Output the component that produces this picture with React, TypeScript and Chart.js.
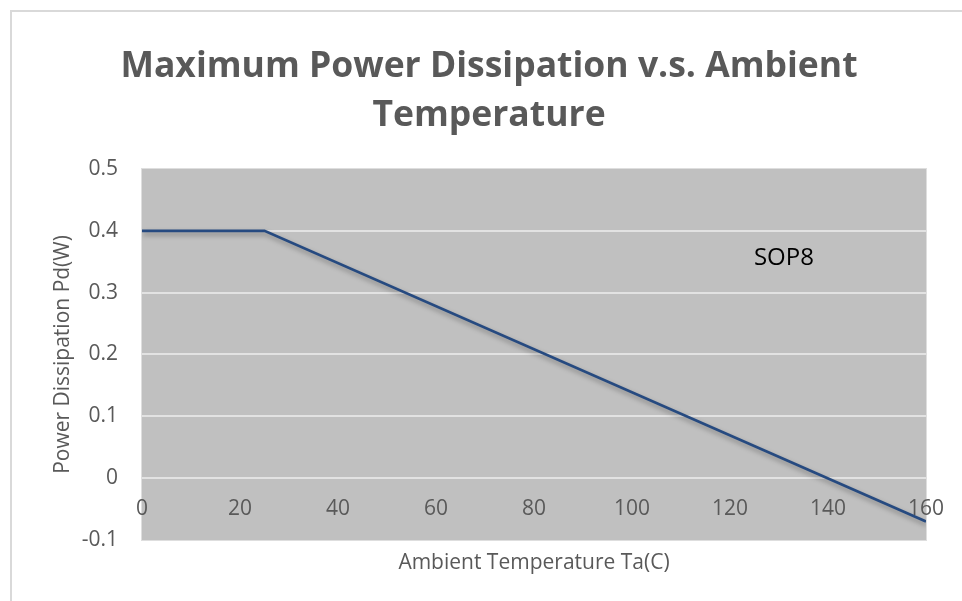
import React, { useEffect, useRef } from "react";
import { Chart, registerables } from "chart.js";

Chart.register(...registerables);

// ---- Data ----
const temperatures = [0, 25, 160];
const powerValues = [0.4, 0.4, -0.07];
const seriesName = "SOP8";
const labelPosition = [131, 0.355]; // data coords for the "SOP8" note
const titleLines = ["Maximum Power Dissipation v.s. Ambient", "Temperature"];
const xAxisTitle = "Ambient Temperature Ta(C)";
const yAxisTitle = "Power Dissipation Pd(W)";
const xRange = [0, 160];
const xStep = 20;
const yRange = [-0.1, 0.5];
const yStep = 0.1;

const FONT = "'Open Sans', 'DejaVu Sans', sans-serif";
const TEXT = "#595959";

const plotBg = {
  id: "plotBg",
  beforeDraw(chart: any) {
    const { ctx, chartArea: a } = chart;
    ctx.save();
    ctx.fillStyle = "#c0c0c0";
    ctx.fillRect(a.left, a.top, a.right - a.left, a.bottom - a.top);
    ctx.strokeStyle = "#dedede";
    ctx.lineWidth = 1;
    ctx.strokeRect(a.left - 0.5, a.top - 0.5, a.right - a.left + 1, a.bottom - a.top + 1);
    ctx.restore();
  },
  beforeDatasetsDraw(chart: any) {
    const { ctx } = chart;
    ctx.save();
    ctx.shadowColor = "rgba(0,0,0,0.35)";
    ctx.shadowBlur = 5;
    ctx.shadowOffsetX = 1;
    ctx.shadowOffsetY = 3;
  },
  afterDatasetsDraw(chart: any) {
    const { ctx, scales } = chart;
    ctx.restore();
    ctx.save();
    ctx.fillStyle = "#000000";
    ctx.font = `24px ${FONT}`;
    ctx.textAlign = "center";
    ctx.textBaseline = "middle";
    ctx.fillText(
      seriesName,
      scales.x.getPixelForValue(labelPosition[0]),
      scales.y.getPixelForValue(labelPosition[1])
    );
    ctx.restore();
  },
};

export default function App() {
  const ref = useRef<HTMLCanvasElement>(null);
  useEffect(() => {
    if (!ref.current) return;
    const chart = new Chart(ref.current, {
      type: "line",
      data: {
        datasets: [
          {
            label: seriesName,
            data: temperatures.map((t, i) => ({ x: t, y: powerValues[i] })),
            borderColor: "#264a80",
            borderWidth: 2.75,
            pointRadius: 0,
            tension: 0,
            fill: false,
            xAxisID: "x2",
          },
        ],
      },
      options: {
        responsive: false,
        animation: false,
        layout: { padding: { left: 52, right: 36, top: 0, bottom: 0 } },
        plugins: {
          legend: { display: false },
          tooltip: { enabled: false },
          title: {
            display: true,
            text: titleLines,
            color: TEXT,
            font: { family: FONT, size: 35.5, weight: "bold", lineHeight: 1.38 },
            padding: { top: 42, bottom: 29 },
          },
        },
        scales: {
          x: {
            type: "linear",
            position: "bottom",
            min: xRange[0],
            max: xRange[1],
            ticks: { display: false, stepSize: xStep },
            grid: { display: false, drawTicks: false },
            border: { display: false },
            title: {
              display: true,
              text: xAxisTitle,
              color: TEXT,
              font: { family: FONT, size: 21, lineHeight: 1.2 },
              padding: { top: 0, bottom: 25 },
            },
            afterFit(s: any) {
              s.height = 61;
            },
          },
          x2: {
            type: "linear",
            position: { y: 0 } as any,
            min: xRange[0],
            max: xRange[1],
            ticks: {
              stepSize: xStep,
              color: TEXT,
              font: { family: FONT, size: 21 },
              padding: 18,
              autoSkip: false,
              maxRotation: 0,
            },
            grid: { display: false, drawTicks: false },
            border: { display: false },
          },
          y: {
            type: "linear",
            min: yRange[0],
            max: yRange[1],
            ticks: {
              stepSize: yStep,
              color: TEXT,
              font: { family: FONT, size: 21 },
              padding: 24,
              callback: (v: any) => {
                const n = Math.round(Number(v) * 10) / 10;
                return String(n);
              },
            },
            grid: {
              drawTicks: false,
              lineWidth: 2,
              color: (c: any) => {
                const v = Math.round((c.tick?.value ?? 0) * 10) / 10;
                return v === 0.5 || v === -0.1 ? "rgba(0,0,0,0)" : "#e2e2e2";
              },
            },
            border: { display: false },
            title: {
              display: true,
              text: yAxisTitle,
              color: TEXT,
              font: { family: FONT, size: 21, lineHeight: 1.2 },
              padding: { top: -2, bottom: 0 },
            },
            afterFit(s: any) {
              s.width = 90;
            },
          },
        },
      },
      plugins: [plotBg],
    });
    return () => chart.destroy();
  }, []);

  return (
    <div style={{ position: "fixed", left: 0, top: 0, width: 962, height: 601, background: "#fff", overflow: "hidden" }}>
      <div
        style={{
          position: "absolute",
          left: 10,
          top: 10,
          width: 1000,
          height: 700,
          border: "2px solid #d9d9d9",
        }}
      />
      <canvas ref={ref} width={962} height={601} style={{ position: "absolute", left: 0, top: 0, display: "block" }} />
    </div>
  );
}
